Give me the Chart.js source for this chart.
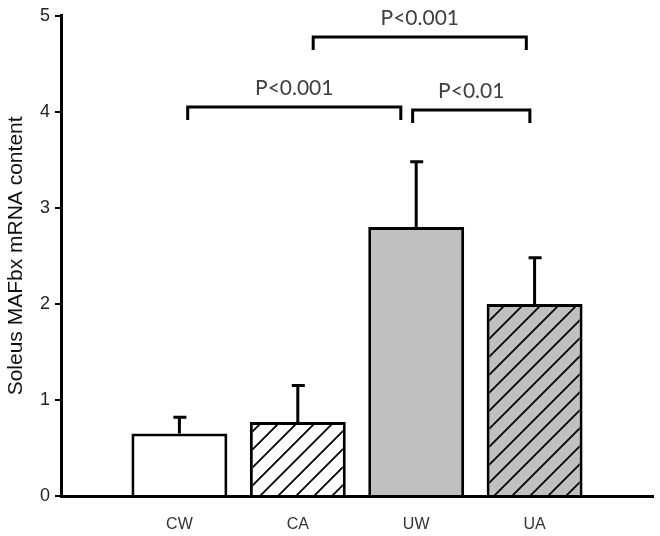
<!DOCTYPE html>
<html>
<head>
<meta charset="utf-8">
<script src="https://cdn.jsdelivr.net/npm/chart.js@4/dist/chart.umd.min.js"></script>
<style>
  body { margin: 0; background: #fff; }
  #wrap { width: 660px; height: 536px; }
</style>
</head>
<body>
<div id="wrap"><canvas id="mafbxChart" width="660" height="536"></canvas></div>
<script>
// Groups and their mean values
const groups = ['CW', 'CA', 'UW', 'UA'];
const groupPos = [1, 2, 3, 4];
const means = [0.65, 0.77, 2.80, 2.00];
const errors = [0.17, 0.38, 0.68, 0.48]; // upward error bars

// Significance brackets (x in group units, y in axis units)
const bracketStart = [1.07, 2.97, 2.13];
const bracketEnd = [2.87, 3.96, 3.93];
const bracketLevel = [4.05, 4.02, 4.78];
const bracketText = ['P<0.001', 'P<0.01', 'P<0.001'];

const yTicks = [0, 1, 2, 3, 4, 5];

// Diagonal hatching used for the "A" groups
function makeHatch(bg) {
    const size = 18;
    const c = document.createElement('canvas');
    c.width = size;
    c.height = size;
    const g = c.getContext('2d');
    g.fillStyle = bg;
    g.fillRect(0, 0, size, size);
    g.strokeStyle = '#000';
    g.lineWidth = 1.8;
    g.beginPath();
    g.moveTo(0, size); g.lineTo(size, 0);
    g.moveTo(-size / 2, size / 2); g.lineTo(size / 2, -size / 2);
    g.moveTo(size / 2, size * 1.5); g.lineTo(size * 1.5, size / 2);
    g.stroke();
    return g.createPattern(c, 'repeat');
}

const ctx = document.getElementById('mafbxChart').getContext('2d');
const fills = ['#ffffff', makeHatch('#ffffff'), '#c0c0c0', makeHatch('#c0c0c0')];

// Error bars drawn on top of the bars
const errorBarPlugin = {
    id: 'errorBars',
    afterDatasetsDraw(chart) {
        const x = chart.scales.x;
        const y = chart.scales.y;
        const c = chart.ctx;
        c.save();
        c.strokeStyle = '#000';
        c.lineWidth = 3;
        means.forEach((m, i) => {
            const px = x.getPixelForValue(groupPos[i]);
            const top = y.getPixelForValue(m);
            const cap = y.getPixelForValue(m + errors[i]);
            c.beginPath();
            c.moveTo(px, top);
            c.lineTo(px, cap);
            c.moveTo(px - 6, cap);
            c.lineTo(px + 7, cap);
            c.stroke();
        });
        c.restore();
    }
};

// Brackets with p-value labels above
const bracketPlugin = {
    id: 'brackets',
    afterDraw(chart) {
        const x = chart.scales.x;
        const y = chart.scales.y;
        const c = chart.ctx;
        c.save();
        c.strokeStyle = '#000';
        c.lineWidth = 3;
        c.fillStyle = '#404040';
        c.font = '21px Lato, "Open Sans", sans-serif';
        c.textAlign = 'center';
        c.textBaseline = 'middle';
        bracketStart.forEach((s, i) => {
            const x1 = x.getPixelForValue(s);
            const x2 = x.getPixelForValue(bracketEnd[i]);
            const yy = y.getPixelForValue(bracketLevel[i]);
            c.beginPath();
            c.moveTo(x1, yy + 13);
            c.lineTo(x1, yy);
            c.lineTo(x2, yy);
            c.lineTo(x2, yy + 13);
            c.stroke();
            c.fillText(bracketText[i], (x1 + x2) / 2, yy - 19);
        });
        c.restore();
    }
};

const chart = new Chart(ctx, {
    type: 'bar',
    data: {
        datasets: [{
            data: groupPos.map((p, i) => ({ x: p, y: means[i] })),
            backgroundColor: fills,
            borderColor: '#000',
            borderWidth: 3,
            borderSkipped: 'bottom',
            barPercentage: 0.81,
            categoryPercentage: 1
        }]
    },
    options: {
        responsive: false,
        devicePixelRatio: 1,
        animation: false,
        layout: { padding: { top: 15, right: 7, left: 0, bottom: 0 } },
        plugins: {
            legend: { display: false },
            tooltip: { enabled: false }
        },
        scales: {
            x: {
                type: 'linear',
                min: 0,
                max: 5,
                offset: false,
                afterFit: s => { s.height = 40; },
                afterBuildTicks: s => { s.ticks = groupPos.map(v => ({ value: v })); },
                ticks: {
                    callback: v => groups[groupPos.indexOf(v)] || '',
                    color: '#333',
                    font: { family: 'Arial, "Liberation Sans", sans-serif', size: 16 },
                    padding: 19,
                    maxRotation: 0
                },
                grid: { display: false, drawTicks: false, offset: false },
                border: { display: true, color: '#000', width: 3 }
            },
            y: {
                min: 0,
                max: 5,
                afterFit: s => { s.width = 61; },
                afterBuildTicks: s => { s.ticks = yTicks.map(v => ({ value: v })); },
                ticks: {
                    color: '#222',
                    font: { family: 'Arial, "Liberation Sans", sans-serif', size: 18 },
                    padding: 5
                },
                grid: {
                    display: true,
                    drawOnChartArea: false,
                    drawTicks: true,
                    tickLength: 6,
                    color: '#000',
                    lineWidth: 2
                },
                border: { display: true, color: '#000', width: 3 },
                title: {
                    display: true,
                    text: 'Soleus MAFbx mRNA content',
                    color: '#111',
                    font: { family: 'Arial, "Liberation Sans", sans-serif', size: 21 },
                    padding: { top: 4, bottom: 0 }
                }
            }
        }
    },
    plugins: [errorBarPlugin, bracketPlugin]
});
</script>
</body>
</html>
